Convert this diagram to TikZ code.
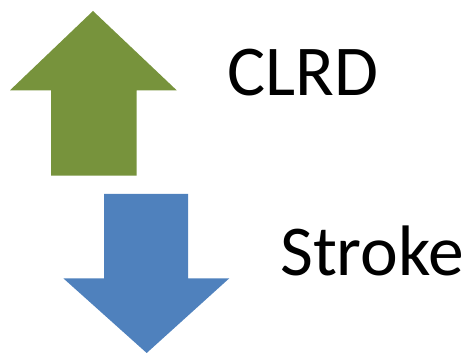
\documentclass[tikz,border=0pt]{standalone}
\usepackage{fontspec}
\setmainfont{Carlito}
\definecolor{upgreen}{HTML}{77933C}
\definecolor{downblue}{HTML}{4F81BD}
\begin{document}
\begin{tikzpicture}[x=1pt,y=-1pt,
  lbl/.style={anchor=base west,inner sep=0pt,text=black,font=\fontsize{71.5}{76}\selectfont}]
\useasboundingbox (0,0) rectangle (466,355);
\fill[upgreen] (93,11) -- (176.7,90.3) -- (136.7,90.3) -- (136.7,175.7) -- (51,175.7) -- (51,90.3) -- (10,90.3) -- cycle;
\fill[downblue] (104,194) -- (188,194) -- (188,278.3) -- (229.3,278.3) -- (146.7,353) -- (63.3,278.3) -- (104,278.3) -- cycle;
\node[lbl] (clrd) at (227,95.5) {CLRD};
\node[lbl] (stroke) at (280,275.5) {Stroke};
\end{tikzpicture}
\end{document}
